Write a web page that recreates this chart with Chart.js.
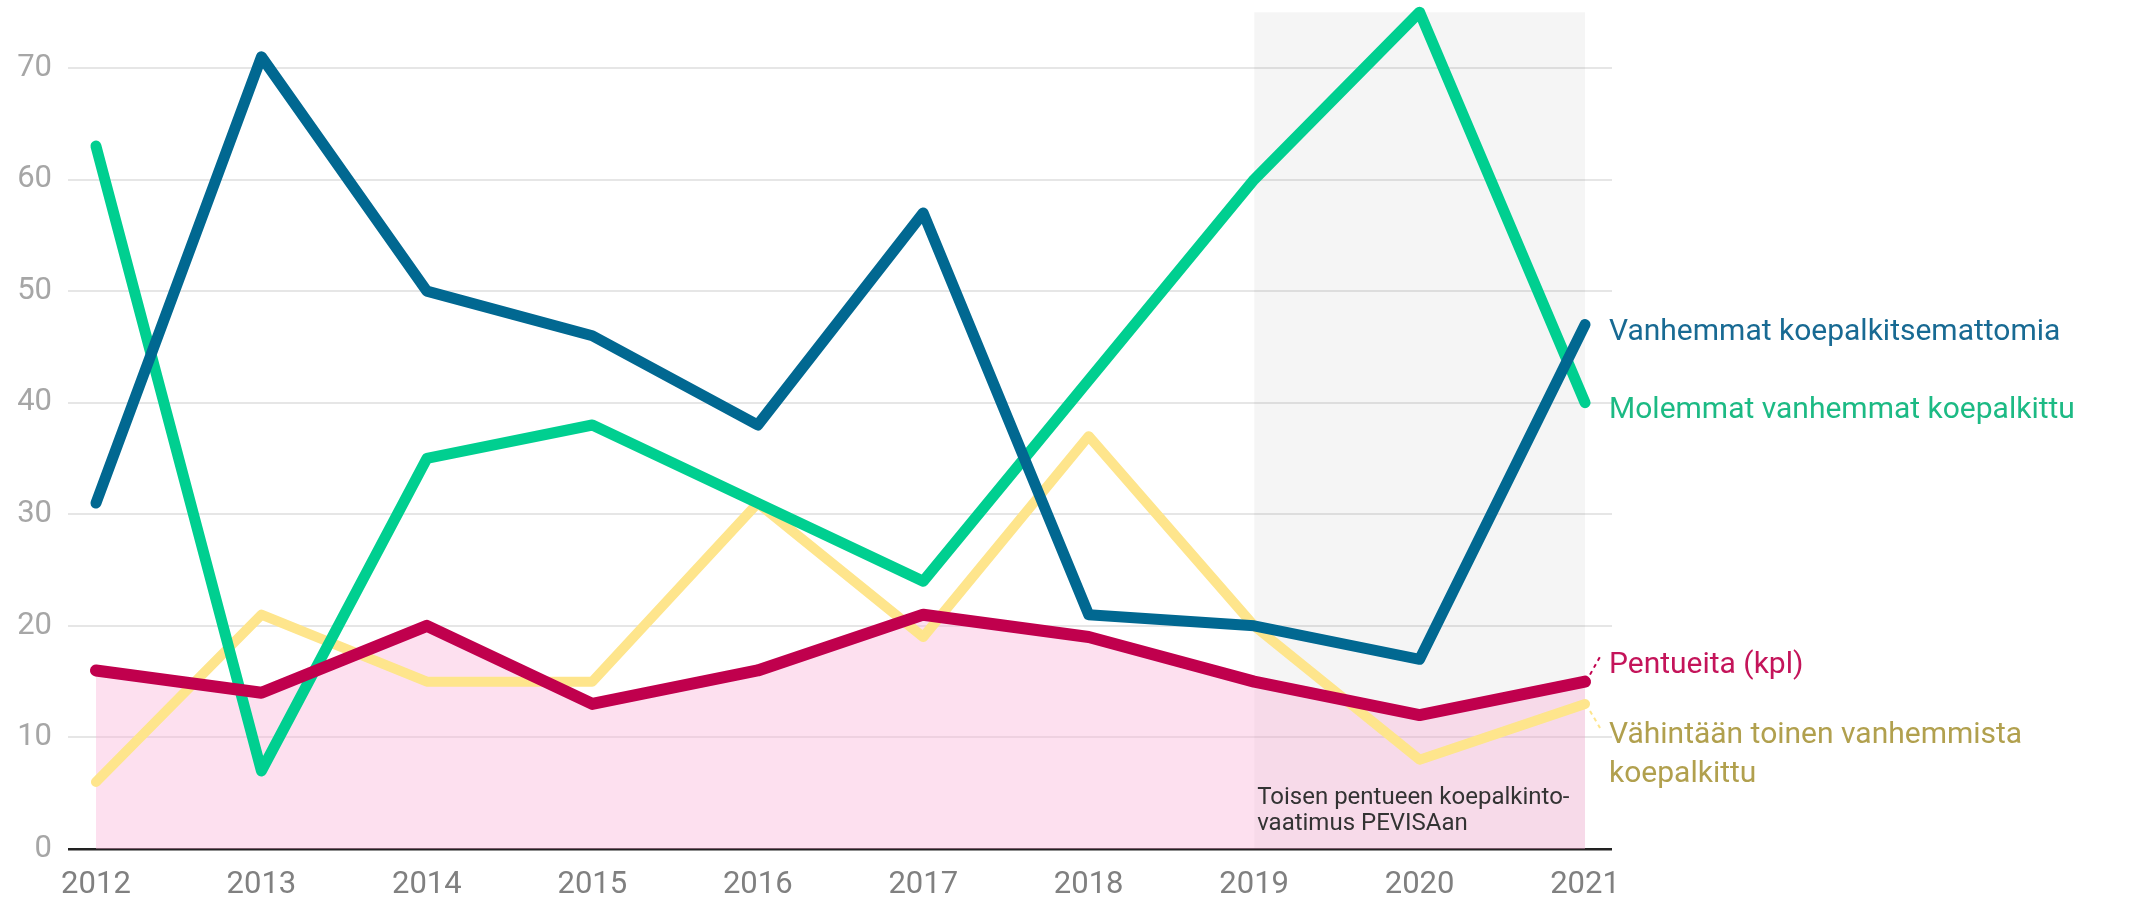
<!DOCTYPE html>
<html>
<head>
<meta charset="utf-8">
<script src="https://cdn.jsdelivr.net/npm/chart.js@4.4.1/dist/chart.umd.min.js"></script>
<style>
  html, body { margin: 0; padding: 0; background: #ffffff; }
  #wrap { width: 2131px; height: 901px; position: relative; }
</style>
</head>
<body>
<div id="wrap"><canvas id="c" width="2131" height="901"></canvas></div>
<script>
// ---- data ----
const years = [2012, 2013, 2014, 2015, 2016, 2017, 2018, 2019, 2020, 2021];
const pentueita = [16, 14, 20, 13, 16, 21, 19, 15, 12, 15];
const vanhemmatKoepalkitsemattomia = [31, 71, 50, 46, 38, 57, 21, 20, 17, 47];
const molemmatKoepalkittu = [63, 7, 35, 38, 31, 24, 42, 60, 75, 40];
const vahintaanToinen = [6, 21, 15, 15, 31, 19, 37, 20, 8, 13];
const yTicks = [0, 10, 20, 30, 40, 50, 60, 70];
const bandYears = [2019, 2021];
const bandTop = 75;
const seriesLabels = [
  ['Pentueita (kpl)'],
  ['Vanhemmat koepalkitsemattomia'],
  ['Molemmat vanhemmat koepalkittu'],
  ['Vähintään toinen vanhemmista', 'koepalkittu']
];
const annotationLines = ['Toisen pentueen koepalkinto-', 'vaatimus PEVISAan'];

const pts = arr => arr.map((v, i) => ({ x: years[i], y: v }));

const FONT = 'Roboto, "Noto Sans", sans-serif';

const labelPlugin = {
  id: 'endLabels',
  afterDatasetsDraw(chart) {
    const ctx = chart.ctx;
    const textColors = ['#c4145a', '#186a93', '#1cba84', '#b1a04e'];
    const lineColors = ['#c0004d', '#016891', '#00cf90', '#fee58c'];
    const dy = [-9, 15, 15, 39];
    ctx.save();
    ctx.font = '30px ' + FONT;
    ctx.textAlign = 'left';
    ctx.textBaseline = 'alphabetic';
    for (let d = 0; d < 4; d++) {
      const meta = chart.getDatasetMeta(d);
      const p = meta.data[meta.data.length - 1];
      ctx.fillStyle = textColors[d];
      seriesLabels[d].forEach((t, k) => {
        ctx.fillText(t, p.x + 24, p.y + dy[d] + k * 39);
      });
      if (d === 0 || d === 3) {
        ctx.beginPath();
        ctx.setLineDash([4, 4]);
        ctx.lineWidth = 2;
        ctx.strokeStyle = lineColors[d];
        if (d === 0) { ctx.moveTo(p.x + 5, p.y - 7); ctx.lineTo(p.x + 15, p.y - 25); }
        else { ctx.moveTo(p.x + 5, p.y + 7); ctx.lineTo(p.x + 15, p.y + 24); }
        ctx.stroke();
        ctx.setLineDash([]);
      }
    }
    const xs = chart.scales.x, ys = chart.scales.y;
    const ax = xs.getPixelForValue(bandYears[0]) + 3;
    const ay = ys.getPixelForValue(0);
    ctx.font = '24px ' + FONT;
    ctx.fillStyle = '#333333';
    ctx.fillText(annotationLines[0], ax, ay - 45);
    ctx.fillText(annotationLines[1], ax, ay - 19);
    ctx.restore();
  }
};

new Chart(document.getElementById('c'), {
  type: 'line',
  data: {
    datasets: [
      {
        label: 'Pentueita (kpl)',
        data: pts(pentueita),
        borderColor: '#c0004d',
        backgroundColor: 'rgba(250,178,215,0.4)',
        borderWidth: 12,
        fill: 'origin'
      },
      {
        label: 'Vanhemmat koepalkitsemattomia',
        data: pts(vanhemmatKoepalkitsemattomia),
        borderColor: '#016891',
        borderWidth: 11,
        fill: false
      },
      {
        label: 'Molemmat vanhemmat koepalkittu',
        data: pts(molemmatKoepalkittu),
        borderColor: '#00cf90',
        borderWidth: 11,
        fill: false
      },
      {
        label: 'Vähintään toinen vanhemmista koepalkittu',
        data: pts(vahintaanToinen),
        borderColor: '#fee58c',
        borderWidth: 10,
        fill: false
      },
      {
        label: 'band',
        data: bandYears.map(x => ({ x, y: bandTop })),
        borderWidth: 0,
        borderColor: 'rgba(0,0,0,0)',
        backgroundColor: 'rgba(0,0,0,0.04)',
        fill: 'origin'
      }
    ]
  },
  options: {
    responsive: false,
    animation: false,
    devicePixelRatio: 1,
    layout: { padding: { left: 0, right: 519, top: 1, bottom: 0 } },
    elements: {
      point: { radius: 0, hoverRadius: 0 },
      line: { tension: 0, borderCapStyle: 'round', borderJoinStyle: 'round' }
    },
    plugins: {
      legend: { display: false },
      tooltip: { enabled: false },
      filler: { drawTime: 'beforeDatasetsDraw' }
    },
    scales: {
      x: {
        type: 'linear',
        min: 2011.831,
        max: 2021.163,
        afterFit: s => { s.height = 52; s.paddingLeft = 0; s.paddingRight = 0; s.paddingTop = 0; s.paddingBottom = 0; },
        afterBuildTicks: s => { s.ticks = years.map(v => ({ value: v })); },
        grid: { display: false, drawTicks: false },
        border: { display: false },
        ticks: {
          padding: 18,
          color: '#808080',
          font: { family: FONT, size: 31 },
          maxRotation: 0,
          autoSkip: false,
          callback: v => String(v)
        }
      },
      y: {
        min: 0,
        max: 76,
        afterFit: s => { s.width = 68; s.paddingTop = 0; s.paddingBottom = 0; s.paddingLeft = 0; s.paddingRight = 0; },
        afterBuildTicks: s => { s.ticks = yTicks.map(v => ({ value: v })); },
        grid: {
          drawTicks: false,
          color: c => c.tick && c.tick.value === 0 ? '#222222' : '#e6e6e6',
          lineWidth: c => c.tick && c.tick.value === 0 ? 2.5 : 2
        },
        border: { display: false },
        ticks: {
          padding: 16,
          color: '#a6a6a6',
          font: { family: FONT, size: 31 },
          callback: v => String(v)
        }
      }
    }
  },
  plugins: [labelPlugin]
});
</script>
</body>
</html>
